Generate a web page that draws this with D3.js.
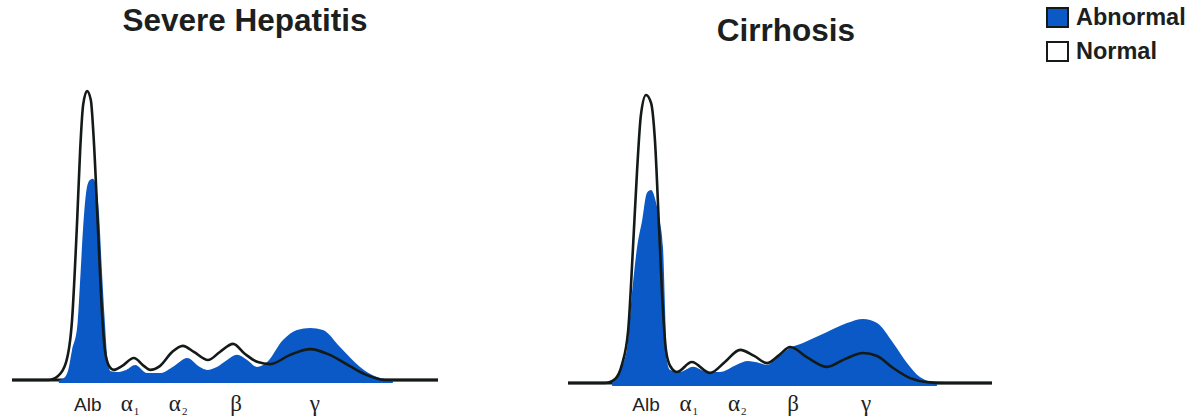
<!DOCTYPE html>
<html><head><meta charset="utf-8">
<script src="https://cdn.jsdelivr.net/npm/d3@7"></script>
<style>
html,body{margin:0;padding:0;background:#fff;}
svg{display:block;}
</style></head>
<body>
<svg id="chart" width="1202" height="418"></svg>
<script>
// ---- Data (relative mobility 0-100, relative absorbance 0-100 with normal albumin peak = 100)
const panelTitles = ["Severe Hepatitis", "Cirrhosis"];
const bandLabels = ["Alb", "α", "α", "β", "γ"];
const bandSubs = ["", "1", "2", "", ""];
const bandPosHepatitis = [17.8, 27.7, 39.0, 52.6, 71.1];
const bandPosCirrhosis = [18.4, 28.5, 39.9, 53.1, 70.3];

const normalHepX = [0,8.5,10.8,12.7,14.1,15.3,16.0,16.7,17.6,18.5,19.2,20.2,21.1,21.8,22.8,23.9,25.8,28.6,31.0,32.4,34.7,37.6,40.1,42.7,46.0,48.8,51.9,54.7,57.7,60.6,65.3,70.0,74.6,79.3,83.3,87.6,100];
const normalHepY = [0,0,1.4,6.2,20.8,55.4,79.6,95.2,100,96.9,83.0,51.9,24.2,10.4,4.8,3.5,4.8,7.6,4.8,3.5,4.8,9.7,11.8,9.7,6.9,9.7,12.5,9.0,6.2,5.5,8.7,10.7,8.7,4.8,1.7,0,0];

const abnHepX = [11.0,12.2,13.2,14.1,15.3,16.0,16.7,17.6,18.3,19.0,19.7,20.4,21.1,21.8,22.5,23.2,24.6,26.8,28.9,31.7,34.7,38.0,41.1,44.1,45.8,48.1,50.5,52.8,55.2,57.5,59.9,63.6,66.9,70.0,73.0,77.0,81.7,85.7,89.4];
const abnHepY = [0,0.7,3.5,10.4,18.3,34.6,52.9,66.8,69.2,69.6,67.5,58.0,38.0,20.0,6.0,3.0,2.8,3.5,5.2,2.4,2.4,4.8,7.6,4.5,3.5,4.5,6.9,8.7,6.9,4.5,6.2,13.8,17.3,18.0,17.3,11.4,4.5,1.0,0];

const normalCirX = [0,8.7,11.1,12.7,14.2,15.3,16.3,17.2,18.4,19.6,20.5,21.5,22.4,23.1,24.1,25.7,29.2,33.5,37.0,40.6,43.9,46.9,49.8,52.4,56.6,61.1,65.3,69.6,72.9,76.7,80.7,84.7,88.9,100];
const normalCirY = [0,0,1.4,6.3,18.4,46.2,74.0,93.1,100,97.2,84.4,53.1,25.3,11.5,5.9,3.8,7.3,3.5,7.3,11.5,9.4,6.9,9.7,12.5,8.7,5.6,8.3,10.4,9.4,5.2,1.7,0.3,0,0];

const abnCirX = [10.4,11.8,13.9,15.1,16.3,17.5,18.6,19.6,21.0,21.7,22.4,22.9,23.3,24.1,26.4,29.5,32.8,35.8,39.8,42.2,45.3,46.9,49.3,52.4,55.4,61.1,65.8,69.6,72.9,76.7,80.0,83.0,87.0];
const abnCirY = [0.3,3.5,11.5,31.3,47.2,56.6,66.0,67.0,61.1,55.6,47.2,25.3,8.0,4.5,3.8,5.6,3.8,3.8,6.3,7.6,6.9,6.3,8.7,12.2,13.9,17.7,20.8,22.2,20.8,13.9,6.9,2.1,0];

const legendItems = ["Abnormal", "Normal"];
const legendFill = ["#0a59c6", "#ffffff"];

// ---- Layout
const BLUE = "#0a59c6", INK = "#141a17";
const panels = [
  {title: panelTitles[0], titleX: 245, titleY: 31, x0: 12, x1: 438, yBase: 380, yTop: 91,
   nx: normalHepX, ny: normalHepY, ax: abnHepX, ay: abnHepY, bands: bandPosHepatitis},
  {title: panelTitles[1], titleX: 786, titleY: 41, x0: 568, x1: 992, yBase: 383, yTop: 95,
   nx: normalCirX, ny: normalCirY, ax: abnCirX, ay: abnCirY, bands: bandPosCirrhosis}
];

const svg = d3.select("#chart");
svg.append("rect").attr("width",1202).attr("height",418).attr("fill","#fff");

panels.forEach(p => {
  const x = d3.scaleLinear().domain([0,100]).range([p.x0, p.x1]);
  const y = d3.scaleLinear().domain([0,100]).range([p.yBase, p.yTop]);
  const g = svg.append("g");

  // baseline
  g.append("line").attr("x1", x(0)).attr("x2", x(100))
    .attr("y1", y(0)).attr("y2", y(0))
    .attr("stroke", INK).attr("stroke-width", 3);

  // abnormal filled area
  const abn = p.ax.map((v,i) => [v, p.ay[i]]);
  const area = d3.area().x(d => x(d[0])).y0(y(0)+3).y1(d => y(d[1])).curve(d3.curveMonotoneX);
  g.append("path").datum(abn).attr("d", area).attr("fill", BLUE);

  // normal line
  const nor = p.nx.map((v,i) => [v, p.ny[i]]);
  const line = d3.line().x(d => x(d[0])).y(d => y(d[1])).curve(d3.curveMonotoneX);
  g.append("path").datum(nor).attr("d", line).attr("fill","none")
    .attr("stroke", INK).attr("stroke-width", 2.6).attr("stroke-linejoin","round");

  // title
  g.append("text").attr("x", p.titleX).attr("y", p.titleY).attr("text-anchor","middle")
    .attr("font-family","Liberation Sans, Arial, sans-serif").attr("font-weight","bold")
    .attr("font-size", 31.5).attr("fill","#1c1f1e").text(p.title);

  // band labels
  const lab = g.selectAll("text.band").data(bandLabels).enter().append("text")
    .attr("class","band").attr("x", (d,i) => x(p.bands[i])).attr("y", 411)
    .attr("text-anchor","middle").attr("fill","#222");
  lab.each(function(d,i){
    const t = d3.select(this);
    if (i === 0) {
      t.attr("font-family","Liberation Sans, Arial, sans-serif").attr("font-size",19).text(d);
    } else {
      t.attr("font-family","Liberation Serif, Times New Roman, serif").attr("font-size",23);
      t.append("tspan").text(d);
      if (bandSubs[i]) t.append("tspan").attr("font-size",11).attr("dy",4).attr("dx",1).text(bandSubs[i]);
    }
  });
});

// legend
const leg = svg.append("g");
legendItems.forEach((name,i) => {
  const yy = 8 + i*34;
  leg.append("rect").attr("x",1047).attr("y",yy).attr("width",21).attr("height",19)
    .attr("fill", legendFill[i]).attr("stroke", INK).attr("stroke-width",2);
  leg.append("text").attr("x",1076).attr("y",yy+17)
    .attr("font-family","Liberation Sans, Arial, sans-serif").attr("font-weight","bold")
    .attr("font-size",23.5).attr("fill","#1c1f1e").text(name);
});
</script>
</body></html>
